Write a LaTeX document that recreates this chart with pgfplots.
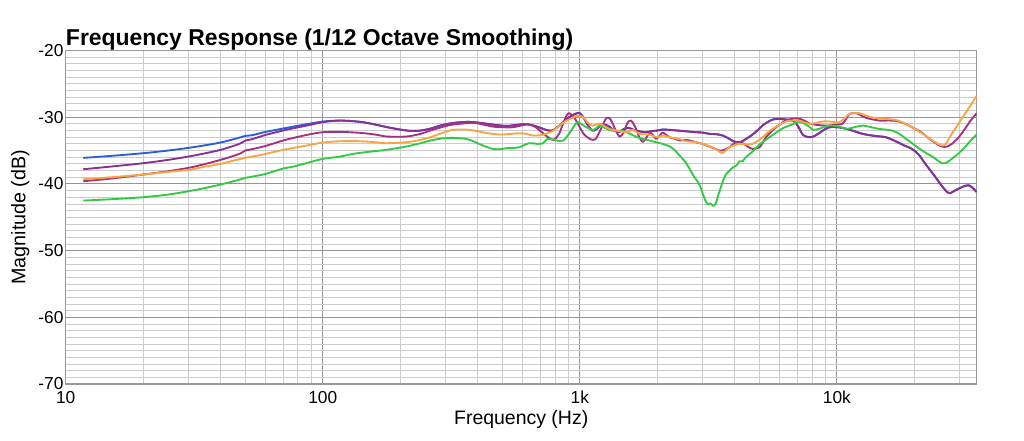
\documentclass[border=0pt]{standalone}
\usepackage{fontspec}
\setmainfont{Liberation Sans}
\usepackage{pgfplots}
\usepackage{pgfplotstable}
\pgfplotsset{compat=1.18}
\definecolor{cblue}{HTML}{2B5FD9}
\definecolor{cviolet}{HTML}{8A2F94}
\definecolor{cmagenta}{HTML}{A33282}
\definecolor{corange}{HTML}{F7A545}
\definecolor{cgreen}{HTML}{33C944}

\pgfplotstableread{
f db
11.7 -37.8
15 -37.4
20 -36.9
25 -36.4
30 -35.9
35 -35.4
40 -34.9
45 -34.3
48 -33.9
50 -33.5
53 -33.3
60 -32.65
70 -32.0
77 -31.65
88 -31.2
100 -30.75
117 -30.5
140 -30.7
160 -31.1
178 -31.5
200 -31.85
220 -32.05
240 -32.0
263 -31.7
290 -31.2
324 -30.85
365 -30.7
400 -30.8
437 -31.0
480 -31.2
524 -31.3
580 -31.1
627 -31.05
686 -31.45
740 -31.9
780 -32.0
830 -31.3
900 -30.1
960 -29.5
1000 -29.4
1040 -30.2
1080 -31.3
1120 -32.0
1160 -31.8
1220 -31.1
1290 -31.3
1350 -31.9
1420 -32.2
1480 -31.8
1550 -31.6
1620 -31.9
1700 -32.1
1800 -32.25
1900 -32.1
2000 -32.0
2100 -31.85
2230 -31.9
2400 -32.0
2570 -32.1
2830 -32.25
3000 -32.3
3200 -32.5
3400 -32.55
3600 -32.75
3800 -33.2
3960 -33.6
4200 -33.75
4500 -33.1
4700 -32.6
4900 -32.0
5200 -31.1
5450 -30.6
5700 -30.3
6200 -30.3
6800 -30.6
7100 -31.5
7400 -32.7
7850 -33.0
8200 -32.8
8600 -32.3
9000 -31.8
9400 -31.5
10100 -31.5
10900 -31.75
11700 -32.1
12600 -32.5
14000 -32.8
15500 -33.0
16900 -33.6
18200 -34.2
19600 -34.75
20800 -35.6
22100 -37.0
24000 -38.8
25600 -40.3
27000 -41.3
27600 -41.4
28500 -41.1
29800 -40.7
31500 -40.3
32500 -40.2
33500 -40.5
35000 -41.2
}\violet

\pgfplotstableread{
f db
11.7 -36.1
15 -35.8
20 -35.4
25 -35.0
30 -34.6
35 -34.2
40 -33.8
45 -33.3
48 -33.0
50 -32.8
53 -32.7
60 -32.2
70 -31.7
77 -31.4
88 -31.0
100 -30.65
117 -30.5
140 -30.7
160 -31.1
178 -31.5
200 -31.85
220 -32.05
240 -32.0
263 -31.7
290 -31.2
324 -30.85
365 -30.7
400 -30.8
437 -31.0
480 -31.2
524 -31.3
580 -31.1
627 -31.05
686 -31.45
740 -31.9
780 -32.0
830 -31.3
900 -30.1
960 -29.5
1000 -29.4
1040 -30.2
1080 -31.3
1120 -32.0
1160 -31.8
1220 -31.1
1290 -31.3
1350 -31.9
1420 -32.2
1480 -31.8
1550 -31.6
1620 -31.9
1700 -32.1
1800 -32.25
1900 -32.1
2000 -32.0
2100 -31.85
2230 -31.9
2400 -32.0
2570 -32.1
2830 -32.25
3000 -32.3
3200 -32.5
3400 -32.55
3600 -32.75
3800 -33.2
3960 -33.6
4200 -33.75
4500 -33.1
4700 -32.6
4900 -32.0
5200 -31.1
5450 -30.6
5700 -30.3
6200 -30.3
6800 -30.6
7100 -31.5
7400 -32.7
7850 -33.0
8200 -32.8
8600 -32.3
9000 -31.8
9400 -31.5
10100 -31.5
10900 -31.75
11700 -32.1
12600 -32.5
14000 -32.8
15500 -33.0
16900 -33.6
18200 -34.2
19600 -34.75
20800 -35.6
22100 -37.0
24000 -38.8
25600 -40.3
27000 -41.3
27600 -41.4
28500 -41.1
29800 -40.7
31500 -40.3
32500 -40.2
33500 -40.5
35000 -41.2
}\blue

\pgfplotstableread{
f db
11.7 -39.6
15 -39.2
20 -38.6
25 -38.1
30 -37.6
35 -37.0
40 -36.4
45 -35.8
48 -35.4
50 -35.0
53 -34.8
60 -34.3
70 -33.5
77 -33.1
88 -32.6
100 -32.25
117 -32.2
140 -32.35
160 -32.6
178 -32.9
211 -32.9
240 -32.5
262 -32.0
290 -31.5
321 -31.1
383 -30.85
420 -31.1
458 -31.4
500 -31.5
550 -31.5
618 -31.1
660 -31.3
700 -32.0
740 -32.8
790 -33.4
830 -32.5
860 -31.0
890 -29.7
910 -29.4
950 -30.0
990 -31.2
1040 -32.6
1100 -33.3
1150 -33.3
1200 -32.0
1270 -30.1
1320 -30.4
1380 -32.0
1430 -32.9
1480 -32.3
1530 -30.9
1580 -30.5
1640 -31.4
1700 -32.9
1760 -33.7
1820 -33.0
1870 -32.3
1930 -32.7
1980 -33.25
2040 -32.8
2100 -32.3
2160 -32.6
2230 -33.0
2330 -33.2
2450 -33.5
2600 -33.4
2830 -33.75
3000 -34.0
3200 -34.4
3350 -34.7
3500 -35.0
3650 -34.9
3820 -34.5
4050 -33.75
4300 -33.9
4500 -34.4
4700 -34.75
5000 -34.5
5150 -33.8
5300 -33.0
5550 -32.2
5800 -31.5
6050 -31.0
6300 -30.5
6800 -30.2
7200 -30.25
7550 -30.6
7900 -31.0
8600 -31.2
9300 -31.25
10000 -31.1
10500 -31.0
10850 -30.3
11200 -29.5
11900 -29.4
12400 -29.7
13000 -30.1
14600 -30.5
16000 -30.5
17300 -30.6
18500 -31.0
19600 -31.5
21000 -32.1
22100 -32.75
23800 -33.7
25600 -34.4
26800 -34.4
28000 -34.0
29800 -33.0
31500 -31.75
33000 -30.6
35000 -29.4
}\magenta

\pgfplotstableread{
f db
11.7 -39.3
15 -39.0
20 -38.6
25 -38.2
30 -37.9
35 -37.4
40 -37.0
45 -36.5
50 -36.1
55 -35.8
60 -35.5
70 -34.9
77 -34.6
88 -34.2
100 -33.8
117 -33.6
139 -33.6
160 -33.75
176 -33.9
211 -33.75
240 -33.4
262 -33.0
290 -32.4
321 -31.9
361 -31.85
400 -32.1
432 -32.35
487 -32.6
540 -32.5
582 -32.4
620 -32.5
656 -32.75
700 -32.7
740 -32.5
790 -32.0
833 -31.25
880 -30.6
937 -30.1
970 -29.8
1000 -29.8
1040 -30.1
1070 -30.75
1120 -31.25
1200 -31.0
1300 -31.75
1400 -32.0
1500 -32.25
1560 -32.1
1610 -31.9
1710 -32.5
1870 -32.6
2000 -33.0
2100 -32.75
2300 -33.1
2450 -33.3
2600 -33.6
2830 -33.75
3000 -34.0
3280 -34.5
3450 -35.0
3570 -35.4
3700 -35.0
3820 -34.5
4000 -34.2
4160 -34.0
4500 -34.1
4700 -34.0
4950 -33.5
5150 -33.0
5400 -32.25
5650 -31.7
5900 -31.25
6400 -30.6
7000 -30.5
7500 -30.8
7900 -31.0
8400 -30.8
9000 -30.6
9600 -30.7
10200 -30.75
10700 -30.2
11200 -29.5
12200 -29.4
13600 -30.0
15500 -30.25
17300 -30.5
19600 -31.5
22100 -32.75
24000 -33.7
25600 -34.25
26500 -34.0
28000 -32.5
31500 -29.5
35000 -26.8
}\orange

\pgfplotstableread{
f db
11.7 -42.5
15 -42.3
20 -42.0
25 -41.6
30 -41.1
35 -40.6
40 -40.1
45 -39.6
48 -39.3
50 -39.1
55 -38.8
60 -38.5
70 -37.7
77 -37.4
88 -36.8
100 -36.25
117 -35.9
131 -35.5
150 -35.2
176 -34.9
211 -34.4
240 -33.9
262 -33.5
290 -33.2
321 -33.1
361 -33.25
385 -33.6
406 -34.0
430 -34.4
458 -34.75
490 -34.8
516 -34.65
550 -34.6
582 -34.5
634 -33.9
682 -34.0
720 -33.9
744 -33.3
780 -33.3
813 -33.5
862 -33.5
895 -32.8
926 -32.0
955 -31.2
982 -30.7
1020 -31.1
1060 -31.5
1130 -31.9
1190 -31.3
1250 -31.6
1300 -31.9
1380 -32.1
1450 -32.0
1550 -32.4
1700 -33.1
1870 -33.5
1980 -33.75
2100 -34.0
2240 -34.4
2350 -35.0
2450 -35.8
2560 -36.6
2680 -37.8
2770 -38.8
2880 -39.7
2950 -40.5
3010 -41.5
3080 -42.5
3150 -43.1
3220 -42.9
3300 -43.3
3380 -42.9
3450 -41.8
3530 -40.6
3600 -39.6
3700 -38.6
3830 -38.0
3950 -37.5
4080 -37.2
4180 -36.6
4300 -36.6
4400 -36.1
4580 -35.5
4750 -35.0
5000 -34.1
5200 -33.6
5470 -33.0
5800 -32.3
6200 -31.6
6600 -31.2
7100 -30.7
7400 -30.9
7800 -31.4
8100 -31.9
8600 -31.7
9300 -31.25
10200 -31.4
10900 -31.75
11700 -31.5
12600 -31.25
13600 -31.5
14600 -31.75
16400 -32.0
17500 -32.5
18600 -33.25
19800 -34.0
21000 -34.75
22300 -35.4
23700 -36.0
25600 -36.9
26500 -36.9
28000 -36.25
30000 -35.3
31500 -34.5
33000 -33.6
35000 -32.6
}\green

\begin{document}
\begin{tikzpicture}
\begin{semilogxaxis}[
  scale only axis,
  width=683.25pt, height=250.1pt,
  xmin=10, xmax=35000, ymin=-70, ymax=-20,
  xtick={10,100,1000,10000},
  xticklabels={10,100,1k,10k},
  minor xtick={20,30,40,50,60,70,80,90,200,300,400,500,600,700,800,900,2000,3000,4000,5000,6000,7000,8000,9000,20000,30000},
  ytick={-70,-60,-50,-40,-30,-20},
  yticklabels={-70,-60,-50,-40,-30,-20},
  minor ytick={-69,-68,-67,-66,-65,-64,-63,-62,-61,-59,-58,-57,-56,-55,-54,-53,-52,-51,-49,-48,-47,-46,-45,-44,-43,-42,-41,-39,-38,-37,-36,-35,-34,-33,-32,-31,-29,-28,-27,-26,-25,-24,-23,-22,-21},
  grid=both,
  major grid style={color=black!42, line width=0.8pt},
  minor grid style={color=black!20, line width=0.6pt},
  major tick length=0pt, minor tick length=0pt,
  axis line style={color=black!40, line width=0.8pt},
  tick label style={font=\fontsize{13}{15}\selectfont},
  xticklabel style={yshift=-1.8pt},
  yticklabel style={xshift=1.8pt},
  every axis title shift=0pt,
  title={Frequency Response (1/12 Octave Smoothing)},
  title style={at={(axis description cs:0,1.0164)}, anchor=base west, inner sep=0pt, font=\fontsize{17.2}{20}\selectfont\bfseries},
  xlabel={Frequency (Hz)},
  ylabel={Magnitude (dB)},
  xlabel style={at={(axis description cs:0.5,-0.1052)}, anchor=center, font=\fontsize{14.6}{17}\selectfont},
  ylabel style={at={(axis description cs:-0.0498,0.5)}, anchor=center, font=\fontsize{14.8}{17}\selectfont},
  every axis plot/.append style={no markers, line width=1.4pt, line join=round, smooth, tension=0.5},
  clip=true,
]
\addplot[cblue] table[x=f,y=db]{\blue};
\addplot[cviolet] table[x=f,y=db]{\violet};
\addplot[cmagenta] table[x=f,y=db]{\magenta};
\addplot[cgreen] table[x=f,y=db]{\green};
\addplot[corange] table[x=f,y=db]{\orange};
\end{semilogxaxis}
\pgfresetboundingbox
\path[use as bounding box] ([shift={(-49.3pt,-42.75pt)}]current axis.south west) rectangle ([shift={(35.5pt,37.9pt)}]current axis.north east);
\end{tikzpicture}
\end{document}
